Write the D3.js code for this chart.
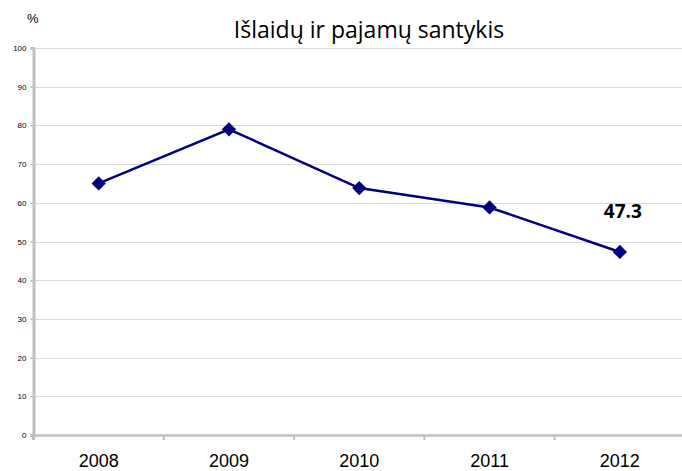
<!DOCTYPE html>
<html>
<head>
<meta charset="utf-8">
<script src="https://cdn.jsdelivr.net/npm/d3@7"></script>
<style>
  body { margin: 0; background: #fff; }
  svg { display: block; font-family: "Open Sans", "Liberation Sans", sans-serif; }
</style>
</head>
<body>
<svg id="chart" width="682" height="471"></svg>
<script>
// data
const years = ["2008", "2009", "2010", "2011", "2012"];
const ratio = [65, 79, 63.8, 58.8, 47.3];
const yTicks = [0, 10, 20, 30, 40, 50, 60, 70, 80, 90, 100];
const title = "Išlaidų ir pajamų santykis";

const svg = d3.select("#chart");
const plotLeft = 33.5, plotRight = 685, plotTop = 48, plotBottom = 435;

const x = d3.scaleBand().domain(years).range([plotLeft, plotRight]);
const y = d3.scaleLinear().domain([0, 100]).range([plotBottom, plotTop]);

// gridlines
svg.append("g")
  .selectAll("line")
  .data(yTicks.filter(d => d > 0))
  .join("line")
  .attr("x1", plotLeft).attr("x2", 682)
  .attr("y1", d => Math.round(y(d)) + 0.5).attr("y2", d => Math.round(y(d)) + 0.5)
  .attr("stroke", "#d9d9d9").attr("stroke-width", 1);

// y axis
const yAxis = svg.append("g")
  .attr("transform", `translate(${plotLeft},0)`)
  .call(d3.axisLeft(y).tickValues(yTicks).tickSize(3).tickPadding(4));
yAxis.select(".domain").attr("stroke", "#bfbfbf").attr("stroke-width", 3);
yAxis.selectAll(".tick line").attr("stroke", "#bfbfbf").attr("stroke-width", 1.5);
yAxis.selectAll("text").attr("font-size", 8).attr("fill", "#000")
  .attr("font-family", "Liberation Sans, sans-serif");

// x axis
const xAxis = svg.append("g")
  .attr("transform", `translate(0,${plotBottom})`)
  .call(d3.axisBottom(x).tickSize(0).tickPadding(19));
xAxis.select(".domain").attr("stroke", "#bfbfbf").attr("stroke-width", 2.5);
xAxis.selectAll("text").attr("font-size", 18).attr("fill", "#000");
// category boundary ticks
xAxis.selectAll(".bound")
  .data(years.slice(1).concat(["end"]))
  .join("line")
  .attr("class", "bound")
  .attr("x1", (d, i) => plotLeft + x.step() * (i + 1))
  .attr("x2", (d, i) => plotLeft + x.step() * (i + 1))
  .attr("y1", 0).attr("y2", 5)
  .attr("stroke", "#bfbfbf").attr("stroke-width", 2);
xAxis.append("line")
  .attr("x1", plotLeft).attr("x2", plotLeft).attr("y1", 0).attr("y2", 5)
  .attr("stroke", "#bfbfbf").attr("stroke-width", 3);

// line
const pts = years.map((d, i) => [x(d) + x.bandwidth() / 2, y(ratio[i])]);
svg.append("path")
  .datum(pts)
  .attr("d", d3.line())
  .attr("fill", "none")
  .attr("stroke", "#000080")
  .attr("stroke-width", 2.5);

svg.append("g")
  .selectAll("path")
  .data(pts)
  .join("path")
  .attr("transform", d => `translate(${d[0]},${d[1]})`)
  .attr("d", d3.symbol().type(d3.symbolDiamond2).size(130))
  .attr("fill", "#000080");

// data label for last point
const last = pts[pts.length - 1];
svg.append("text")
  .attr("x", last[0] + 3).attr("y", last[1] - 34)
  .attr("text-anchor", "middle")
  .attr("font-size", 19).attr("font-weight", "bold")
  .text(ratio[ratio.length - 1]);

// title and unit
svg.append("text")
  .attr("x", 369).attr("y", 38)
  .attr("text-anchor", "middle")
  .attr("font-size", 23)
  .text(title);
svg.append("text")
  .attr("x", 27).attr("y", 23)
  .attr("font-size", 13)
  .attr("font-family", "Liberation Sans, sans-serif")
  .text("%");
</script>
</body>
</html>
